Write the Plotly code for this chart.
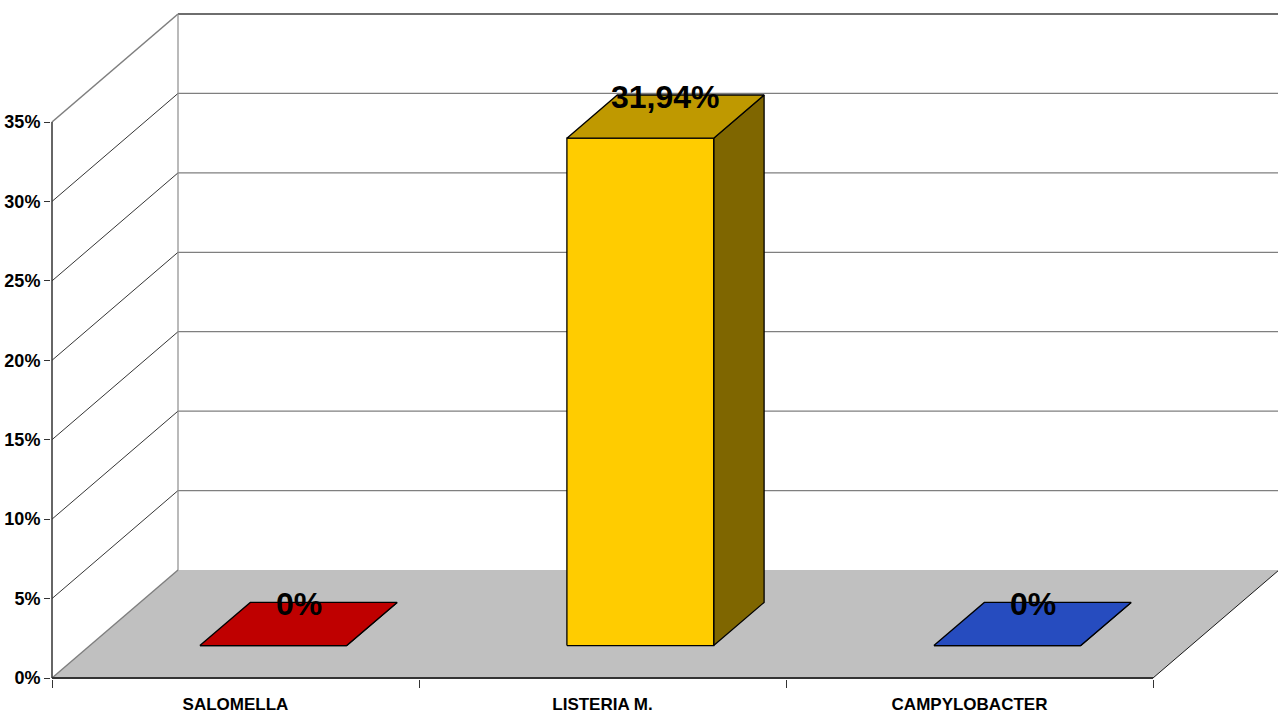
import plotly.graph_objects as go

# --- data -------------------------------------------------------------
categories = ["SALOMELLA", "LISTERIA M.", "CAMPYLOBACTER"]
values = [0, 31.94, 0]                      # percent
y_ticks = [0, 5, 10, 15, 20, 25, 30, 35]
y_tick_labels = [f"{v}%" for v in y_ticks]
base_colors = ["#FF0000", "#FFCC00", "#3366FF"]

# --- geometry of the oblique 3-D look ---------------------------------
W, H = 1278, 716
PX_PER_CAT = 367.0                 # pixels per category slot
PX_PER_PCT = 556.0 / 35.0          # pixels per percentage point
DEPTH_X = 126.0 / PX_PER_CAT       # depth offset, in category units
DEPTH_Y = 108.0 / PX_PER_PCT       # depth offset, in percent units
BAR_HALF = 0.2                     # half bar width (category units)
BAR_T0, BAR_T1 = 0.3, 0.7          # bar depth range (fraction of floor depth)
N = len(categories)
Y_TOP = y_ticks[-1]

ML, MR, MT, MB = 51, 0, 8, 37
x_min = -1.0 / PX_PER_CAT
x_max = x_min + (W - ML - MR) / PX_PER_CAT
y_min = -1.0 / PX_PER_PCT
y_max = y_min + (H - MT - MB) / PX_PER_PCT

FONT = "Liberation Sans, Arial, sans-serif"


def proj(x, y, t):
    """Project a point (x, y) at depth fraction t onto the 2-D axes."""
    return x + t * DEPTH_X, y + t * DEPTH_Y


def shade(hex_color, k):
    r, g, b = (int(hex_color[i:i + 2], 16) for i in (1, 3, 5))
    return "#{:02X}{:02X}{:02X}".format(int(r * k), int(g * k), int(b * k))


def pct_label(v):
    s = f"{v:.2f}".rstrip("0").rstrip(".")
    return s.replace(".", ",") + "%"


def line_shape(p0, p1, color, width):
    return dict(type="line", xref="x", yref="y", layer="below",
                x0=p0[0], y0=p0[1], x1=p1[0], y1=p1[1],
                line=dict(color=color, width=width))


shapes = []

# floor
fl = [proj(0, 0, 0), proj(N, 0, 0), proj(N, 0, 1), proj(0, 0, 1)]
path = "M " + " L ".join(f"{px},{py}" for px, py in fl) + " Z"
shapes.append(dict(type="path", xref="x", yref="y", layer="below", path=path,
                   fillcolor="#C0C0C0", line=dict(width=0)))

# back wall and left wall gridlines
for v in y_ticks[1:]:
    top = v == Y_TOP
    shapes.append(line_shape(proj(0, v, 1), proj(N, v, 1),
                             "#7F7F7F" if not top else "#6E6E6E", 1.2 if not top else 2.2))
    shapes.append(line_shape(proj(0, v, 0), proj(0, v, 1),
                             "#000000" if not top else "#7F7F7F", 0.8 if not top else 1.6))

# wall edges
shapes.append(line_shape(proj(0, 0, 1), proj(0, Y_TOP, 1), "#8C8C8C", 1.2))
shapes.append(line_shape(proj(N, 0, 1), proj(N, Y_TOP, 1), "#C8C8C8", 1.2))

# floor edges
shapes.append(line_shape(proj(0, 0, 0), proj(0, 0, 1), "#7F7F7F", 1.4))
shapes.append(line_shape(proj(N, 0, 0), proj(N, 0, 1), "#000000", 0.9))
shapes.append(line_shape(proj(0, 0, 0), proj(N, 0, 0), "#333333", 2.0))

# front value axis
shapes.append(line_shape(proj(0, 0, 0), proj(0, Y_TOP, 0), "#333333", 1.5))

fig = go.Figure()


def add_poly(points, color):
    xs = [p[0] for p in points] + [points[0][0]]
    ys = [p[1] for p in points] + [points[0][1]]
    fig.add_trace(go.Scatter(x=xs, y=ys, mode="lines", fill="toself",
                             fillcolor=color, line=dict(color="#000000", width=1.3),
                             hoverinfo="skip", showlegend=False))


annotations = []
for i, (cat, v, col) in enumerate(zip(categories, values, base_colors)):
    c = i + 0.5
    xl, xr = c - BAR_HALF, c + BAR_HALF
    # front face
    front = [proj(xl, 0, BAR_T0), proj(xr, 0, BAR_T0), proj(xr, v, BAR_T0), proj(xl, v, BAR_T0)]
    # right side face
    side = [proj(xr, 0, BAR_T0), proj(xr, 0, BAR_T1), proj(xr, v, BAR_T1), proj(xr, v, BAR_T0)]
    # top face
    top = [proj(xl, v, BAR_T0), proj(xr, v, BAR_T0), proj(xr, v, BAR_T1), proj(xl, v, BAR_T1)]
    add_poly(side, shade(col, 0.5))
    add_poly(front, col)
    add_poly(top, shade(col, 0.75))

    lx, ly = proj(c, v, (BAR_T0 + BAR_T1) / 2)
    annotations.append(dict(x=lx, y=ly, xref="x", yref="y", text=pct_label(v),
                            showarrow=False, yshift=20,
                            font=dict(family=FONT, size=32, color="#000000", weight="bold")))

fig.update_layout(
    width=W, height=H,
    margin=dict(l=ML, r=MR, t=MT, b=MB, pad=0),
    paper_bgcolor="#FFFFFF", plot_bgcolor="#FFFFFF",
    shapes=shapes, annotations=annotations, showlegend=False,
    xaxis=dict(range=[x_min, x_max], showgrid=False, zeroline=False, showline=False,
               tickmode="array", tickvals=[i + 0.5 for i in range(N)], ticktext=categories,
               ticks="outside", ticklen=10, tickcolor="rgba(0,0,0,0)",
               tickfont=dict(family=FONT, size=17, color="#000000", weight="bold"),
               minor=dict(tickmode="array", tickvals=list(range(N + 1)), ticks="outside",
                          ticklen=8, tickcolor="#333333", tickwidth=1.2, showgrid=False),
               fixedrange=True),
    yaxis=dict(range=[y_min, y_max], showgrid=False, zeroline=False, showline=False,
               tickmode="array", tickvals=y_ticks, ticktext=y_tick_labels,
               ticks="outside", ticklen=6, tickcolor="#333333", tickwidth=1.2,
               tickfont=dict(family=FONT, size=18, color="#000000", weight="bold"),
               fixedrange=True),
)

fig.write_html("out.html")
